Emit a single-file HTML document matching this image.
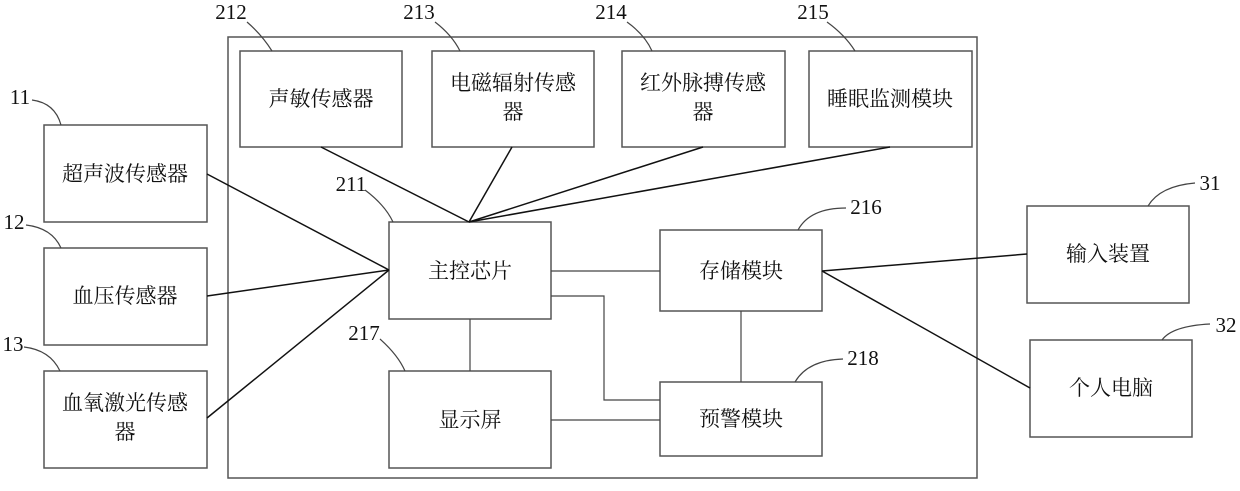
<!DOCTYPE html>
<html><head><meta charset="utf-8"><style>
html,body{margin:0;padding:0;background:#fff;}
svg text{font-family:"Liberation Serif","Noto Serif CJK SC",serif;fill:#111;}
.c{font-size:21px;text-anchor:middle;}
.n{font-size:21px;text-anchor:middle;}
</style></head><body>
<svg width="1240" height="486" viewBox="0 0 1240 486" xmlns="http://www.w3.org/2000/svg">
<g fill="none" stroke="#555" stroke-width="1.5">
<rect x="228" y="37" width="749" height="441"/>
<rect x="44" y="125" width="163" height="97"/>
<rect x="44" y="248" width="163" height="97"/>
<rect x="44" y="371" width="163" height="97"/>
<rect x="240" y="51" width="162" height="96"/>
<rect x="432" y="51" width="162" height="96"/>
<rect x="622" y="51" width="163" height="96"/>
<rect x="809" y="51" width="163" height="96"/>
<rect x="389" y="222" width="162" height="97"/>
<rect x="389" y="371" width="162" height="97"/>
<rect x="660" y="230" width="162" height="81"/>
<rect x="660" y="382" width="162" height="74"/>
<rect x="1027" y="206" width="162" height="97"/>
<rect x="1030" y="340" width="162" height="97"/>
</g>
<g fill="none" stroke="#111" stroke-width="1.5">
<line x1="321" y1="147" x2="469" y2="222"/>
<line x1="512" y1="147" x2="469" y2="222"/>
<line x1="703" y1="147" x2="469" y2="222"/>
<line x1="890" y1="147" x2="469" y2="222"/>
<line x1="207" y1="174" x2="389" y2="270"/>
<line x1="207" y1="296" x2="389" y2="270"/>
<line x1="207" y1="418" x2="389" y2="270"/>
<line x1="822" y1="271" x2="1027" y2="254"/>
<line x1="822" y1="271" x2="1030" y2="388"/>
</g>
<g fill="none" stroke="#444" stroke-width="1.2">
<line x1="551" y1="271" x2="660" y2="271"/>
<polyline points="551,296 604,296 604,400 660,400"/>
<line x1="470" y1="319" x2="470" y2="371"/>
<line x1="551" y1="420" x2="660" y2="420"/>
<line x1="741" y1="311" x2="741" y2="382"/>
<path d="M32,100 Q55,103 61,125"/>
<path d="M26,225 Q52,228 61,248"/>
<path d="M24,347 Q50,350 60,371"/>
<path d="M247,22 Q262,35 272,51"/>
<path d="M435,22 Q452,35 460,51"/>
<path d="M627,22 Q645,35 652,51"/>
<path d="M827,22 Q845,35 855,51"/>
<path d="M365,190 Q385,205 393,222"/>
<path d="M380,339 Q398,355 405,371"/>
<path d="M846,208 Q810,208 798,230"/>
<path d="M843,359 Q808,360 795,382"/>
<path d="M1195,183 Q1160,186 1148,206"/>
<path d="M1210,324 Q1172,326 1162,340"/>
</g>
<g class="n">
<text x="20" y="104">11</text>
<text x="14" y="229">12</text>
<text x="13" y="351">13</text>
<text x="231" y="19">212</text>
<text x="419" y="19">213</text>
<text x="611" y="19">214</text>
<text x="813" y="19">215</text>
<text x="351" y="191">211</text>
<text x="364" y="340">217</text>
<text x="866" y="214">216</text>
<text x="863" y="365">218</text>
<text x="1210" y="190">31</text>
<text x="1226" y="332">32</text>
</g>
<g class="c">
<text x="125" y="181">超声波传感器</text>
<text x="125" y="303">血压传感器</text>
<text x="125" y="410">血氧激光传感</text>
<text x="125" y="439">器</text>
<text x="321" y="106">声敏传感器</text>
<text x="513" y="90">电磁辐射传感</text>
<text x="513" y="119">器</text>
<text x="703" y="90">红外脉搏传感</text>
<text x="703" y="119">器</text>
<text x="890" y="106">睡眠监测模块</text>
<text x="470" y="278">主控芯片</text>
<text x="470" y="427">显示屏</text>
<text x="741" y="278">存储模块</text>
<text x="741" y="426">预警模块</text>
<text x="1108" y="261">输入装置</text>
<text x="1111" y="395">个人电脑</text>
</g>
</svg>
</body></html>
